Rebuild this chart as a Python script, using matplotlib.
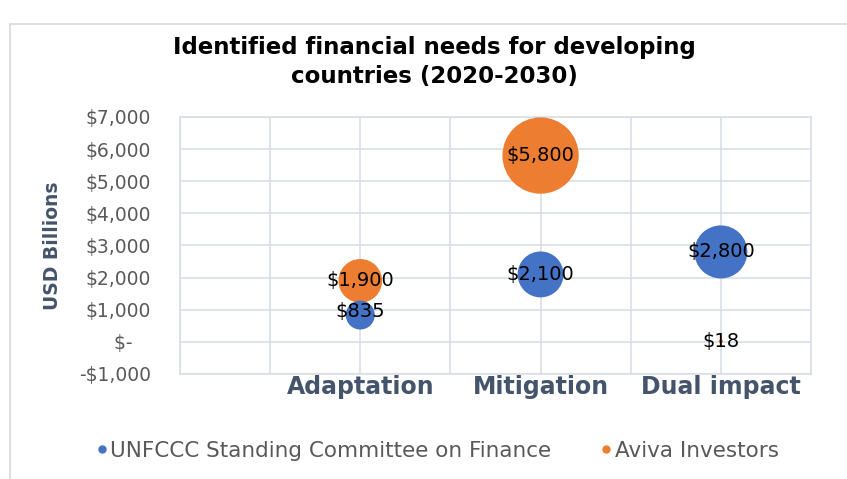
"""Bubble chart: identified financial needs for developing countries."""

import matplotlib
matplotlib.use("Agg")
import matplotlib.pyplot as plt  # noqa: E402
from matplotlib.lines import Line2D  # noqa: E402
from matplotlib.patches import Rectangle  # noqa: E402
import numpy as np  # noqa: E402

plt.rcParams["font.family"] = ["DejaVu Sans"]

categories = ["Adaptation", "Mitigation", "Dual impact"]
cat_pos = [1, 2, 3]
unfccc = [835, 2100, 2800]
aviva = [1900, 5800, 18]
series_names = ["UNFCCC Standing Committee on Finance", "Aviva Investors"]
y_ticks = [-1000, 0, 1000, 2000, 3000, 4000, 5000, 6000, 7000]

BLUE = "#4472C4"
ORANGE = "#ED7D31"
GRID = "#D9DEE6"
AXIS_TXT = "#595959"
CAT_TXT = "#44546A"


def money(v):
    if v == 0:
        return "$-   "
    if v < 0:
        return f"-${abs(v):,.0f}"
    return f"${v:,.0f}"


fig = plt.figure(figsize=(8.47, 4.79), dpi=100)
fig.patches.append(Rectangle((10 / 847, -0.1), 1.2, 1 - 24 / 479 + 0.1,
                             transform=fig.transFigure, fill=False,
                             edgecolor="#D9D9D9", lw=1.2))
ax = fig.add_axes([180 / 847, 1 - 374 / 479, (811 - 180) / 847, (374 - 117) / 479])

scale = 0.52  # bubble area in pt^2 per value unit
for vals, col in [(aviva, ORANGE), (unfccc, BLUE)]:
    ax.scatter(cat_pos, vals, s=np.array(vals) * scale, color=col, zorder=3,
               edgecolors="none")

for vals in (unfccc, aviva):
    for x, v in zip(cat_pos, vals):
        dy = 100 if v == 835 else 0
        ax.text(x, v + dy, money(v), ha="center", va="center", fontsize=14,
                color="black", zorder=4)

ax.set_xlim(0, 3.5)
ax.set_ylim(-1000, 7000)
xt = np.arange(0, 3.51, 0.5)
ax.set_xticks(xt)
ax.set_xticklabels([categories[cat_pos.index(int(t))] if t in cat_pos else "" for t in xt],
                   fontsize=17, fontweight="bold", color=CAT_TXT)
ax.set_yticks(y_ticks)
ax.set_yticklabels([money(v) for v in y_ticks], fontsize=13.5, color=AXIS_TXT)
ax.tick_params(axis="both", length=0)
ax.tick_params(axis="x", pad=1)
ax.tick_params(axis="y", pad=21)
ax.grid(True, color=GRID, lw=1.2, zorder=0)
ax.set_axisbelow(True)
for sp in ax.spines.values():
    sp.set_color(GRID)
    sp.set_linewidth(1.2)

ax.set_ylabel("USD Billions", fontsize=13.5, fontweight="bold", color=CAT_TXT, labelpad=12)

fig.text(434 / 847, 1 - 62 / 479,
         "Identified financial needs for developing\ncountries (2020-2030)",
         ha="center", va="center", fontsize=16.5, fontweight="bold",
         linespacing=1.35)

handles = [Line2D([], [], marker="o", ls="none", color=BLUE, markersize=5),
           Line2D([], [], marker="o", ls="none", color=ORANGE, markersize=5)]
fig.legend(handles, series_names, loc="center", ncol=2,
           bbox_to_anchor=(436 / 847, 1 - 451 / 479), frameon=False,
           fontsize=15.5, labelcolor=AXIS_TXT, handletextpad=0.0,
           columnspacing=2.15, handlelength=0.8)

fig.savefig("out.png", dpi=100)
